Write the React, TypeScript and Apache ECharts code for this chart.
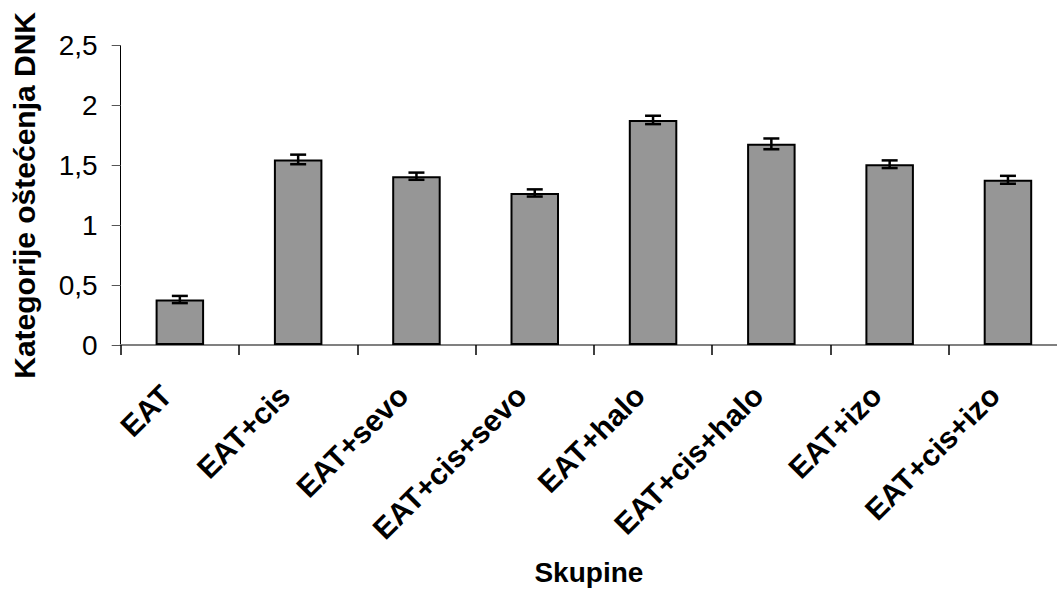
import React, { useEffect, useRef } from "react";
import * as echarts from "echarts";

const categories = ["EAT", "EAT+cis", "EAT+sevo", "EAT+cis+sevo", "EAT+halo", "EAT+cis+halo", "EAT+izo", "EAT+cis+izo"];
const values = [0.38, 1.55, 1.41, 1.27, 1.88, 1.68, 1.51, 1.38];
const errors = [0.03, 0.04, 0.03, 0.03, 0.035, 0.045, 0.032, 0.033];
const yTicks = [0, 0.5, 1, 1.5, 2, 2.5];

export default function App() {
  const ref = useRef<HTMLDivElement>(null);
  useEffect(() => {
    if (!ref.current) return;
    const chart = echarts.init(ref.current, null, { renderer: "svg" });
    const font = "'Liberation Sans', Arial, sans-serif";
    const errData = categories.map((c, i) => [i, values[i] - errors[i], values[i] + errors[i]]);
    chart.setOption({
      animation: false,
      backgroundColor: "#ffffff",
      textStyle: { fontFamily: font },
      grid: {
        left: 120.7,
        top: 45.7,
        width: 946.4,
        height: 299.3,
        containLabel: false,
        outerBoundsMode: "none",
      },
      xAxis: {
        type: "category",
        data: categories,
        name: "Skupine",
        nameLocation: "middle",
        nameGap: 213,
        nameTextStyle: { fontFamily: font, fontSize: 28, fontWeight: "bold", color: "#000", padding: [0, 10, 0, 0] },
        axisLine: { show: true, lineStyle: { color: "#808080", width: 2 } },
        axisTick: { show: true, length: 10, lineStyle: { color: "#000", width: 1.5 } },
        axisLabel: {
          rotate: 45,
          margin: 32,
          interval: 0,
          padding: [0, 19, 0, 0],
          fontFamily: font,
          fontSize: 30,
          fontWeight: "bold",
          color: "#000",
        },
        splitLine: { show: false },
      },
      yAxis: {
        type: "value",
        min: 0,
        max: 2.5,
        interval: 0.5,
        name: "Kategorije oštećenja DNK",
        nameLocation: "middle",
        nameGap: 81,
        nameTextStyle: { fontFamily: font, fontSize: 30, fontWeight: "bold", color: "#000" },
        axisLine: { show: true, lineStyle: { color: "#000", width: 1 } },
        axisTick: { show: true, length: 9, lineStyle: { color: "#555", width: 1 } },
        axisLabel: {
          margin: 23,
          fontFamily: font,
          fontSize: 28,
          color: "#000",
          formatter: (v: number) => {
            const t = yTicks.find((k) => Math.abs(k - v) < 1e-9);
            return t === undefined ? "" : String(t).replace(".", ",");
          },
        },
        splitLine: { show: false },
      },
      series: [
        {
          type: "bar",
          data: values,
          barWidth: "41%",
          itemStyle: { color: "#969696", borderColor: "#000", borderWidth: 2 },
        },
        {
          type: "custom",
          data: errData,
          encode: { x: 0, y: [1, 2] },
          z: 10,
          renderItem: (params: any, api: any) => {
            const x = api.value(0);
            const lo = api.coord([x, api.value(1)]);
            const hi = api.coord([x, api.value(2)]);
            const hw = 8;
            const st = { stroke: "#000", lineWidth: 2.5 };
            return {
              type: "group",
              children: [
                { type: "line", shape: { x1: hi[0], y1: hi[1], x2: lo[0], y2: lo[1] }, style: st },
                { type: "line", shape: { x1: hi[0] - hw, y1: hi[1], x2: hi[0] + hw, y2: hi[1] }, style: st },
                { type: "line", shape: { x1: lo[0] - hw, y1: lo[1], x2: lo[0] + hw, y2: lo[1] }, style: st },
              ],
            };
          },
        },
      ],
    });
    return () => chart.dispose();
  }, []);
  return (
    <div
      ref={ref}
      style={{ position: "absolute", left: 0, top: 0, width: 1057, height: 589 }}
    />
  );
}
